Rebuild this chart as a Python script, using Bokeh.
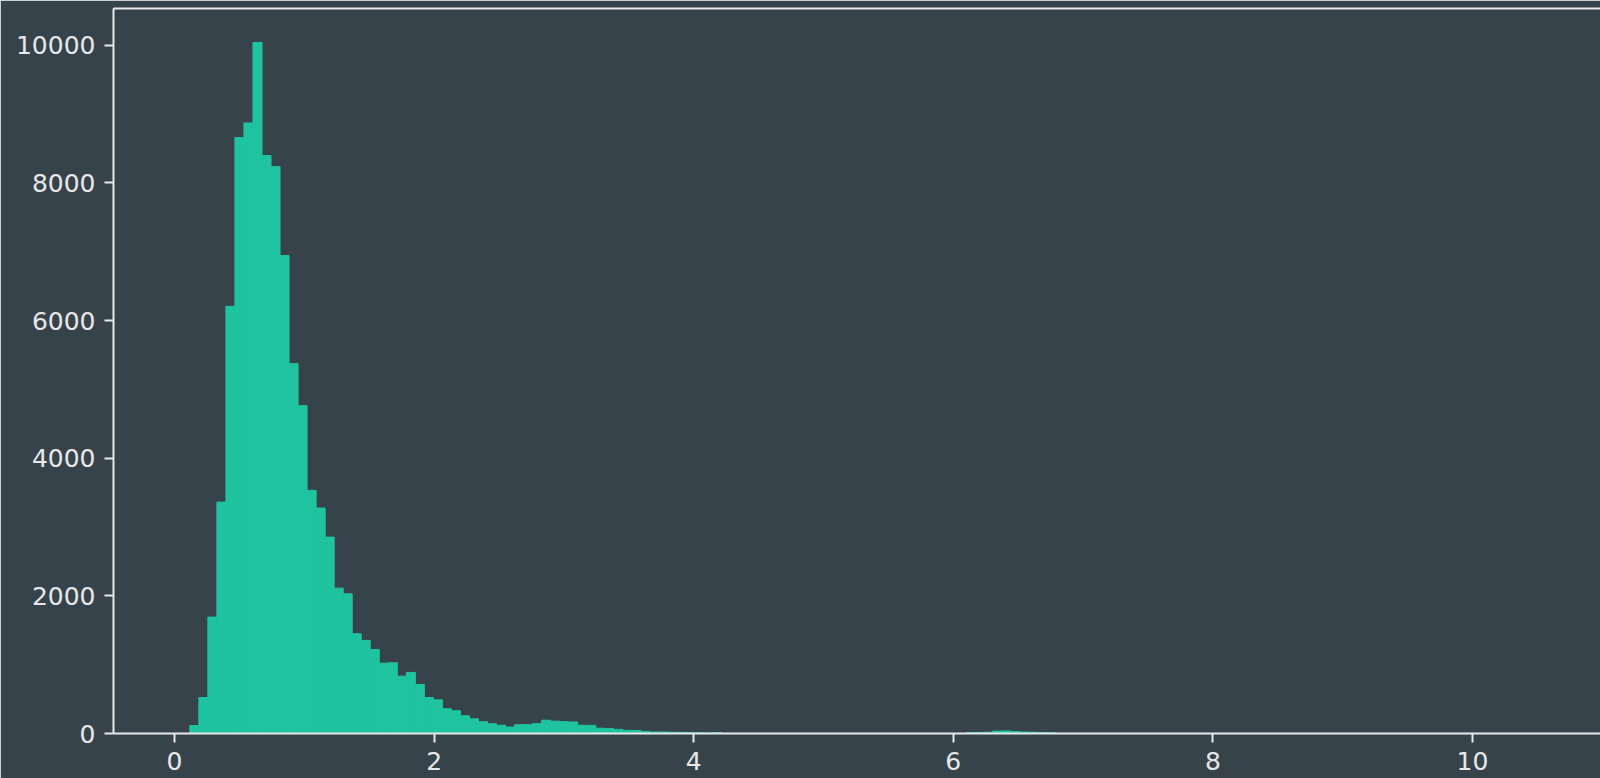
from bokeh.plotting import figure
from bokeh.models import FixedTicker, LinearAxis, Range1d
from bokeh.embed import file_html
from bokeh.resources import INLINE

# Histogram data
bin_start = 0.118
bin_width = 0.0695
counts = [
    116, 523, 1691, 3362, 6206, 8658, 8871, 10039, 8397, 8237,
    6943, 5373, 4763, 3532, 3275, 2853, 2112, 2030, 1449, 1352,
    1221, 1022, 1027, 833, 887, 712, 523, 489, 359, 330,
    257, 213, 172, 142, 120, 94, 128, 130, 143, 193,
    179, 172, 167, 120, 118, 77, 72, 60, 46, 44,
    30, 22, 22, 18, 16, 12, 10, 6, 14, 0,
    0, 0, 0, 0, 0, 0, 0, 0, 0, 0,
    0, 0, 0, 0, 0, 0, 0, 0, 0, 0,
    0, 0, 0, 0, 0, 0, 12, 15, 18, 35,
    38, 30, 22, 18, 15, 10,
]
x_ticks = [0, 2, 4, 6, 8, 10]
y_ticks = [0, 2000, 4000, 6000, 8000, 10000]

BG = "#37434a"
FG = "#e8e8e8"
BAR = "#20c39f"
FONT = "DejaVu Sans"
FS = "25px"

left = [bin_start + i * bin_width for i in range(len(counts))]
right = [l + bin_width for l in left]

p = figure(width=1600, height=778, output_backend="svg", toolbar_location=None,
           x_range=Range1d(-0.470, 10.986), y_range=Range1d(0, 10533),
           min_border_left=113, min_border_right=0, min_border_top=8,
           min_border_bottom=45)
p.background_fill_color = BG
p.border_fill_color = BG
p.outline_line_color = None
p.grid.visible = False

p.quad(left=left, right=right, top=counts, bottom=0,
       fill_color=BAR, line_color=BAR, line_width=1)

for ax, ticks in ((p.xaxis[0], x_ticks), (p.yaxis[0], y_ticks)):
    ax.ticker = FixedTicker(ticks=ticks)
    ax.minor_tick_line_color = None
    ax.major_tick_in = 0
    ax.major_tick_out = 9
    ax.major_tick_line_color = FG
    ax.major_tick_line_width = 2
    ax.axis_line_color = FG
    ax.axis_line_width = 2
    ax.major_label_text_color = FG
    ax.major_label_text_font = FONT
    ax.major_label_text_font_size = FS
p.xaxis[0].major_label_standoff = 9
p.yaxis[0].major_label_standoff = 9

top = LinearAxis(ticker=FixedTicker(ticks=[]), axis_line_color=FG, axis_line_width=2,
                 major_tick_out=0, major_tick_in=0, minor_tick_out=0, minor_tick_in=0,
                 major_label_text_font_size="0px", major_label_standoff=0)
p.add_layout(top, "above")

html = file_html(p, INLINE)
html = html.replace("<body>", '<body style="background:%s">' % BG, 1)
open("out.html", "w").write(html)
